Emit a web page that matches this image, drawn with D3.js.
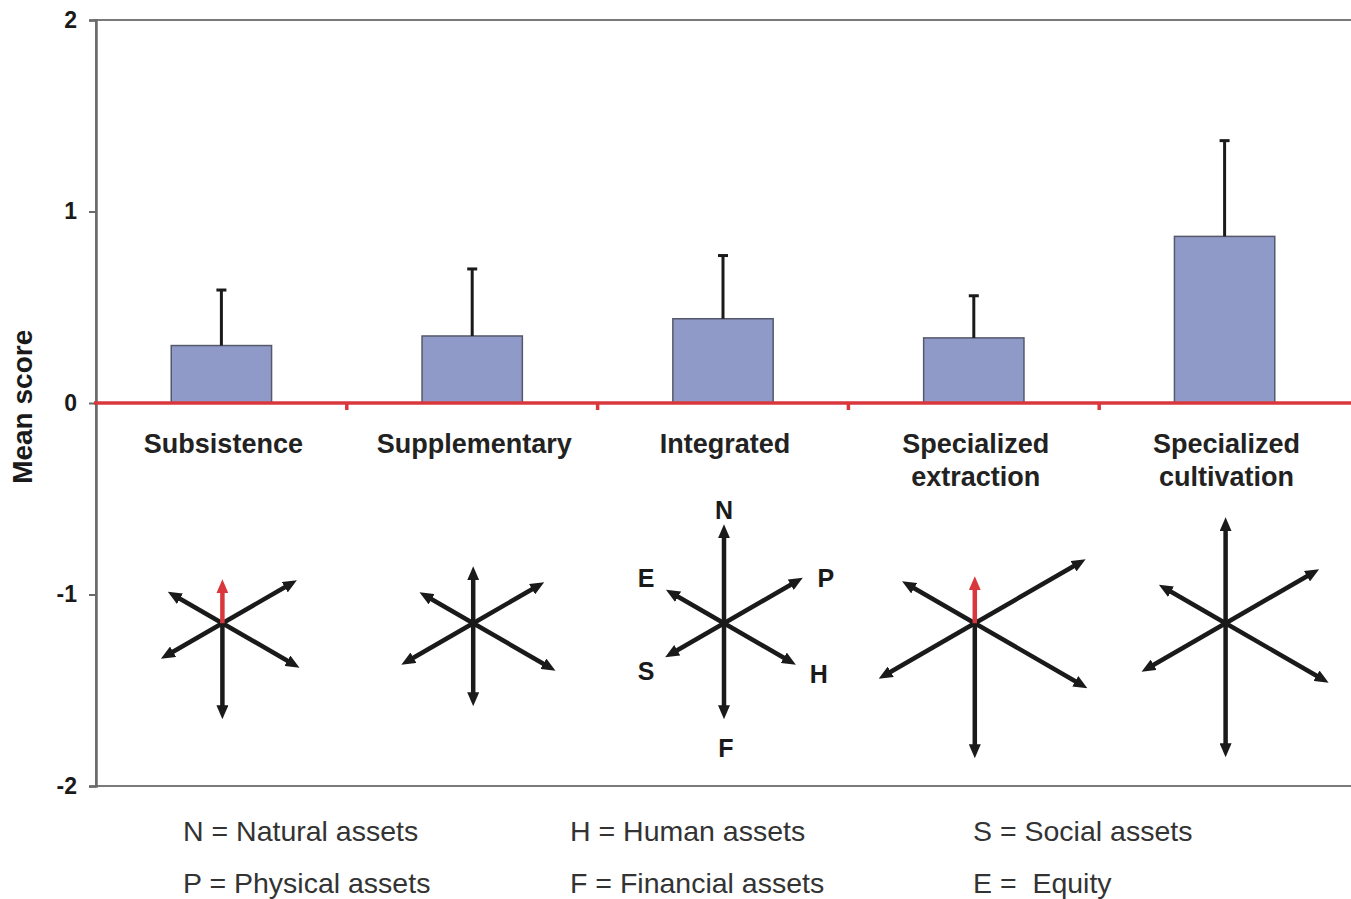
<!DOCTYPE html>
<html>
<head>
<meta charset="utf-8">
<script src="https://cdn.jsdelivr.net/npm/d3@7"></script>
<style>
  body { margin: 0; background: #fff; }
  svg { display: block; font-family: "Liberation Sans", Arial, sans-serif; }
</style>
</head>
<body>
<svg id="chart" width="1351" height="899"></svg>
<script>
// categories and bar values
const categories = ["Subsistence", "Supplementary", "Integrated", "Specialized extraction", "Specialized cultivation"];
const meanScore = [0.30, 0.35, 0.44, 0.34, 0.87];
const errorUpper = [0.59, 0.70, 0.77, 0.56, 1.37];
const yTicks = [2, 1, 0, -1, -2];

// star glyph arrow lengths (negative = drawn in red)
const assets = ["N", "P", "H", "F", "S", "E"];
const assetN = [-0.44, 0.57, 0.99, -0.47, 1.06];
const assetP = [0.86, 0.82, 0.91, 1.28, 1.08];
const assetH = [0.89, 0.95, 0.83, 1.30, 1.19];
const assetF = [0.96, 0.83, 0.96, 1.35, 1.34];
const assetS = [0.71, 0.83, 0.68, 1.11, 0.97];
const assetE = [0.63, 0.62, 0.67, 0.84, 0.77];
const labelledGlyph = "Integrated";

const legendRows = [
  ["N = Natural assets", "H = Human assets", "S = Social assets"],
  ["P = Physical assets", "F = Financial assets", "E =  Equity"]
];

const svg = d3.select("#chart");
const margin = {left: 96, right: 1, top: 20, bottom: 113};
const W = 1351, H = 899;

const x = d3.scaleBand().domain(categories).range([margin.left, W - margin.right]).paddingInner(0.6).paddingOuter(0.3);
const xb = d3.scaleBand().domain(categories).range([margin.left, W - margin.right]);
const y = d3.scaleLinear().domain([-2, 2]).range([H - margin.bottom, margin.top]);
const arrowLen = d3.scaleLinear().domain([0, 1]).range([0, 100]);

// frame
svg.append("rect")
  .attr("x", margin.left).attr("y", y(2))
  .attr("width", W - margin.right - margin.left + 2).attr("height", y(-2) - y(2))
  .attr("fill", "none").attr("stroke", "#7a7a7a").attr("stroke-width", 2);

// y axis
const yAxis = svg.append("g")
  .attr("transform", `translate(${margin.left},0)`)
  .call(d3.axisLeft(y).tickValues(yTicks).tickSize(7).tickPadding(12).tickFormat(d => String(d)));
yAxis.select(".domain").attr("stroke", "#6a6a6a").attr("stroke-width", 2.5);
yAxis.selectAll(".tick line").attr("stroke", "#6a6a6a").attr("stroke-width", 2);
yAxis.selectAll(".tick text")
  .attr("font-family", "'Liberation Sans', Arial, sans-serif")
  .attr("font-size", 23).attr("font-weight", "bold").attr("fill", "#1a1a1a");

svg.append("text")
  .attr("transform", `translate(32,${y(-0.02)}) rotate(-90)`)
  .attr("text-anchor", "middle")
  .attr("font-size", 28).attr("font-weight", "bold").attr("fill", "#1a1a1a")
  .text("Mean score");

// bars
svg.append("g").selectAll("rect")
  .data(categories)
  .join("rect")
  .attr("x", d => x(d))
  .attr("width", x.bandwidth())
  .attr("y", (d, i) => y(meanScore[i]))
  .attr("height", (d, i) => y(0) - y(meanScore[i]))
  .attr("fill", "#8f9ac8")
  .attr("stroke", "#55596a")
  .attr("stroke-width", 1.5);

// error bars (upper only)
const err = svg.append("g").attr("stroke", "#1a1a1a").attr("stroke-width", 3);
categories.forEach((c, i) => {
  const cx = x(c) + x.bandwidth() / 2;
  err.append("line").attr("x1", cx).attr("x2", cx).attr("y1", y(meanScore[i])).attr("y2", y(errorUpper[i]));
  err.append("line").attr("x1", cx - 5).attr("x2", cx + 5).attr("y1", y(errorUpper[i])).attr("y2", y(errorUpper[i]));
});

// red zero line with category ticks
const zero = svg.append("g").attr("stroke", "#d9373c").attr("stroke-width", 3.5);
zero.append("line").attr("x1", margin.left - 2).attr("x2", W).attr("y1", y(0)).attr("y2", y(0));
categories.slice(1).forEach(c => {
  zero.append("line").attr("x1", xb(c)).attr("x2", xb(c)).attr("y1", y(0)).attr("y2", y(0) + 7);
});

// category labels
svg.append("g").selectAll("text")
  .data(categories)
  .join("text")
  .attr("x", d => xb(d) + xb.bandwidth() / 2 + 2)
  .attr("y", 453)
  .attr("text-anchor", "middle")
  .attr("font-size", 27).attr("font-weight", "bold").attr("fill", "#222")
  .each(function(d) {
    const words = d.split(" ");
    d3.select(this).selectAll("tspan")
      .data(words)
      .join("tspan")
      .attr("x", d3.select(this).attr("x"))
      .attr("dy", (w, j) => j === 0 ? 0 : 33)
      .text(w => w);
  });

// arrow markers
const defs = svg.append("defs");
[["head-black", "#1a1a1a"], ["head-red", "#d9373c"]].forEach(([id, col]) => {
  defs.append("marker")
    .attr("id", id)
    .attr("viewBox", "0 -6 14 12")
    .attr("refX", 7).attr("refY", 0)
    .attr("markerWidth", 14).attr("markerHeight", 12)
    .attr("markerUnits", "userSpaceOnUse")
    .attr("orient", "auto")
    .append("path").attr("d", "M0,-6L14,0L0,6Z").attr("fill", col);
});

// star glyphs
const angles = {N: 0, P: 60, H: 120, F: 180, S: 240, E: 300};
const lengths = {N: assetN, P: assetP, H: assetH, F: assetF, S: assetS, E: assetE};
const labelOffset = {N: [0, -5], P: [23, 9], H: [23, 18], F: [2, 38], S: [-19, 23], E: [-20, -3]};
const glyphY = y(-1.15);

categories.forEach((c, i) => {
  const cx = xb(c) + xb.bandwidth() / 2 + 1;
  const g = svg.append("g").attr("transform", `translate(${cx},${glyphY})`);
  // draw black first, red on top
  const order = assets.slice().sort((a, b) => (lengths[a][i] < 0) - (lengths[b][i] < 0));
  order.forEach(a => {
    const v = lengths[a][i];
    const L = arrowLen(Math.abs(v)) - 7;
    const t = angles[a] * Math.PI / 180;
    const red = v < 0;
    g.append("line")
      .attr("x1", 0).attr("y1", 0)
      .attr("x2", Math.sin(t) * L).attr("y2", -Math.cos(t) * L)
      .attr("stroke", red ? "#d9373c" : "#1a1a1a")
      .attr("stroke-width", 4.5)
      .attr("marker-end", `url(#${red ? "head-red" : "head-black"})`);
  });
  if (c === labelledGlyph) {
    assets.forEach(a => {
      const L = arrowLen(Math.abs(lengths[a][i]));
      const t = angles[a] * Math.PI / 180;
      g.append("text")
        .attr("x", Math.sin(t) * L + labelOffset[a][0])
        .attr("y", -Math.cos(t) * L + labelOffset[a][1])
        .attr("text-anchor", "middle")
        .attr("font-size", 25).attr("font-weight", "bold").attr("fill", "#1a1a1a")
        .text(a);
    });
  }
});

// legend
const legendX = [183, 570, 973];
const legendY = [841, 893];
legendRows.forEach((row, r) => {
  row.forEach((txt, col) => {
    svg.append("text")
      .attr("x", legendX[col]).attr("y", legendY[r])
      .attr("font-size", 28.5).attr("fill", "#333")
      .attr("xml:space", "preserve")
      .style("white-space", "pre")
      .text(txt);
  });
});
</script>
</body>
</html>
